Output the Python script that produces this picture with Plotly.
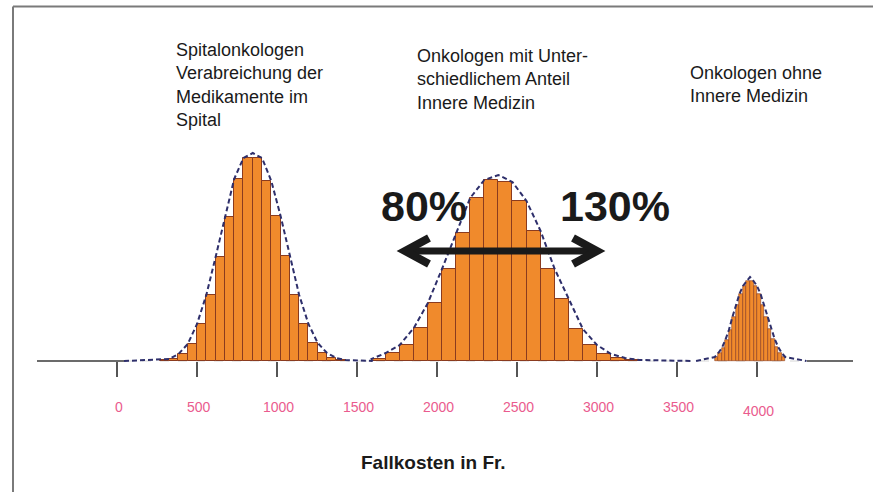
import plotly.graph_objects as go

# ---------------- data ----------------
tick_values = [0, 500, 1000, 1500, 2000, 2500, 3000, 3500, 4000]
tick_labels = ["0", "500", "1000", "1500", "2000", "2500", "3000", "3500", "4000"]

# Spitalonkologen (left distribution)
spital_left_edges = [271, 329, 387, 445, 503, 561, 619, 677, 735, 793,
                     851, 909, 967, 1025, 1083, 1141, 1199, 1257, 1315, 1373]
spital_counts = [1, 2, 7, 17, 37, 66, 104, 144, 182, 203,
                 203, 180, 145, 105, 66, 37, 18, 8, 3, 1]
spital_bin_width = 58
spital_curve_peak = [851, 208]
spital_curve_span = [47, 1600]

# Onkologen mit unterschiedlichem Anteil Innere Medizin (middle)
mixed_left_edges = [1593, 1681, 1769, 1857, 1945, 2033, 2121, 2209, 2297, 2385,
                    2473, 2561, 2649, 2737, 2825, 2913, 3001, 3089, 3177]
mixed_counts = [2, 8, 16, 33, 58, 92, 128, 163, 181, 179,
                160, 130, 92, 62, 32, 16, 7, 3, 1]
mixed_bin_width = 88
mixed_curve_peak = [2385, 186]
mixed_curve_span = [1600, 3600]

# Onkologen ohne Innere Medizin (right)
ohne_left_edges = [3737, 3759, 3781, 3803, 3825, 3847, 3869, 3891, 3913, 3935,
                   3957, 3979, 4001, 4023, 4045, 4067, 4089, 4111, 4133, 4155]
ohne_counts = [4, 8, 13, 21, 31, 44, 56, 67, 75, 80,
               80, 75, 67, 56, 44, 32, 22, 14, 8, 4]
ohne_bin_width = 22
ohne_curve_peak = [3957, 84]
ohne_curve_span = [3620, 4310]

group_texts = ["Spitalonkologen<br>Verabreichung der<br>Medikamente im<br>Spital",
               "Onkologen mit Unter-<br>schiedlichem Anteil<br>Innere Medizin",
               "Onkologen ohne<br>Innere Medizin"]
range_labels = ["80%", "130%"]
axis_title = "Fallkosten in Fr."

# ---------------- figure ----------------
W, H = 873, 492
BAR_FILL = "#f08a2c"
BAR_LINE = "#8a3b1f"
CURVE = "#2e2f6b"


def px(x, y):
    return x / W, 1 - y / H


def outline(edges, counts, w, peak, span):
    xs, ys = [span[0]], [0]
    for e, c in zip(edges, counts):
        if e < peak[0]:
            xs.append(e)
            ys.append(c)
    xs.append(peak[0])
    ys.append(peak[1])
    for e, c in zip(edges, counts):
        if e >= peak[0]:
            xs.append(e + w)
            ys.append(c)
    xs.append(span[1])
    ys.append(0)
    return xs, ys


fig = go.Figure()
groups = [
    (spital_left_edges, spital_counts, spital_bin_width, spital_curve_peak, spital_curve_span, 1.0),
    (mixed_left_edges, mixed_counts, mixed_bin_width, mixed_curve_peak, mixed_curve_span, 1.0),
    (ohne_left_edges, ohne_counts, ohne_bin_width, ohne_curve_peak, ohne_curve_span, 0.6),
]
for edges, counts, w, peak, span, lw in groups:
    fig.add_trace(go.Bar(
        x=[e + w / 2 for e in edges], y=counts, width=w,
        marker=dict(color=BAR_FILL, line=dict(color=BAR_LINE, width=lw)),
        hoverinfo="skip", showlegend=False))
for edges, counts, w, peak, span, lw in groups:
    cx, cy = outline(edges, counts, w, peak, span)
    fig.add_trace(go.Scatter(
        x=cx, y=cy, mode="lines",
        line=dict(color=CURVE, width=2, dash="5px,3px"),
        hoverinfo="skip", showlegend=False))

x0 = -116.5 / 0.1601
x1 = (W - 116.5) / 0.1601
base = 361

shapes = []
# frame
fx, fy = px(13, 6.5)
shapes.append(dict(type="line", xref="paper", yref="paper", x0=fx, y0=fy, x1=1, y1=fy,
                   line=dict(color="#7a7a7a", width=2)))
shapes.append(dict(type="line", xref="paper", yref="paper", x0=fx, y0=fy, x1=fx, y1=0,
                   line=dict(color="#7a7a7a", width=2)))
# axis line pieces
for a, b, col, dash, wd in [(37, 124, "#6b6b6b", "solid", 2),
                            (807, 853, "#6b6b6b", "solid", 2),
                            (124, 807, "#d6d6d6", "dash", 1)]:
    ax0, ay = px(a, base)
    ax1, _ = px(b, base)
    shapes.append(dict(type="line", xref="paper", yref="paper", x0=ax0, y0=ay, x1=ax1, y1=ay,
                       line=dict(color=col, width=wd, dash=dash), layer="below"))

# double arrow
def path(points):
    s = ""
    for i, (a, b) in enumerate(points):
        X, Y = px(a, b)
        s += ("M" if i == 0 else "L") + f"{X:.5f},{Y:.5f} "
    return s

arrow_y = 251
shapes.append(dict(type="path", xref="paper", yref="paper",
                   path=path([(405, arrow_y), (597, arrow_y)]),
                   line=dict(color="#1a1a1a", width=7)))
shapes.append(dict(type="path", xref="paper", yref="paper",
                   path=path([(429, 238), (405, arrow_y), (429, 264)]),
                   line=dict(color="#1a1a1a", width=8)))
shapes.append(dict(type="path", xref="paper", yref="paper",
                   path=path([(573, 238), (597, arrow_y), (573, 264)]),
                   line=dict(color="#1a1a1a", width=8)))

annotations = []
for v, lbl in zip(tick_values, tick_labels):
    annotations.append(dict(x=v, y=base - 407, xref="x", yref="y", text=lbl, showarrow=False,
                            xshift=2, yshift=(-4 if lbl == "4000" else 0),
                            font=dict(family="Liberation Sans, Arial", size=14, color="#ea5b8e")))

tx, ty = px(433, 462)
annotations.append(dict(x=tx, y=ty, xref="paper", yref="paper", text=f"<b>{axis_title}</b>",
                        showarrow=False, xanchor="center", yanchor="middle",
                        font=dict(family="Liberation Sans, Arial", size=19, color="#1a1a1a")))

for text, (gx, gy) in zip(group_texts, [(174, 85), (415, 79), (688, 85)]):
    X, Y = px(gx, gy)
    annotations.append(dict(x=X, y=Y, xref="paper", yref="paper", text=text, showarrow=False,
                            xanchor="left", yanchor="middle", align="left",
                            font=dict(family="Liberation Sans, Arial", size=18, color="#1a1a1a")))

for text, (gx, gy) in zip(range_labels, [(424, 206), (615, 206)]):
    X, Y = px(gx, gy)
    annotations.append(dict(x=X, y=Y, xref="paper", yref="paper", text=f"<b>{text}</b>",
                            showarrow=False, xanchor="center", yanchor="middle",
                            font=dict(family="Liberation Sans, Arial", size=43, color="#1a1a1a")))

fig.update_layout(
    width=W, height=H,
    margin=dict(l=0, r=0, t=0, b=0),
    paper_bgcolor="white", plot_bgcolor="white",
    bargap=0, barmode="overlay",
    xaxis=dict(range=[x0, x1], anchor="free", position=(H - base) / H,
               showline=False, showgrid=False, zeroline=False,
               tickvals=tick_values, ticks="outside", ticklen=15, tickwidth=1.5,
               tickcolor="#555555", showticklabels=False, fixedrange=True),
    yaxis=dict(range=[base - H, base], visible=False, fixedrange=True),
    shapes=shapes, annotations=annotations,
)

fig.write_html("out.html", config={"displayModeBar": False},
               post_script="document.body.style.margin='0';document.body.style.overflow='hidden';")
